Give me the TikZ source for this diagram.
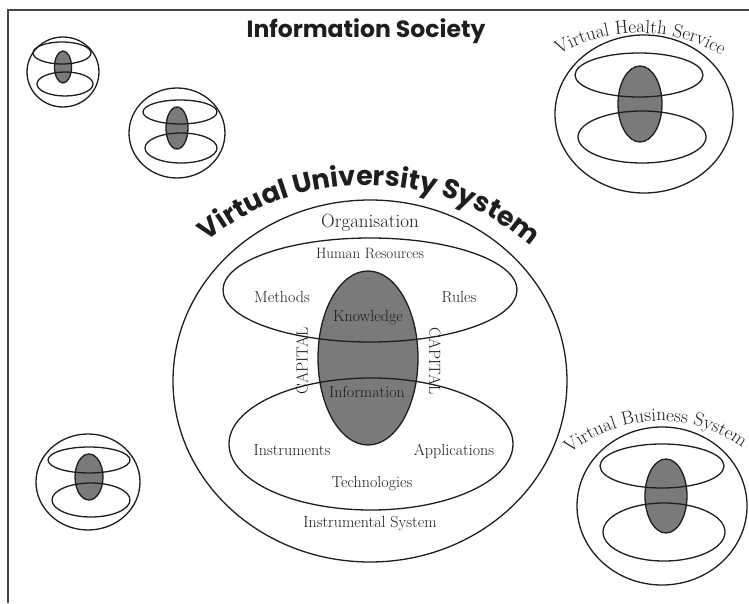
\documentclass[tikz,border=0pt]{standalone}
\usepackage{fontspec}
\newfontfamily\comicfont{Poppins}
\usetikzlibrary{decorations.text,calc}
\definecolor{fillgrey}{RGB}{122,122,122}
\definecolor{ink}{RGB}{30,30,30}
\definecolor{framegrey}{RGB}{70,70,70}
\begin{document}
\begin{tikzpicture}[x=1pt,y=1pt,
  ring/.style={draw=ink, line width=1.3pt},
  core/.style={draw=ink, fill=fillgrey, line width=1.3pt},
  lbl/.style={font=\fontsize{16}{16}\selectfont, text=ink, inner sep=0pt, anchor=base},
  caplbl/.style={font=\fontsize{16}{16}\selectfont, text=ink, inner sep=0pt, anchor=center},
]
\useasboundingbox (0,0) rectangle (749,603);
\clip (0,0) rectangle (749,603);
\fill[white] (0,0) rectangle (749,603);
% frame
\draw[framegrey, line width=2.5pt] (749,593) -- (8,593) -- (8,0);

% title
\node[font=\comicfont\bfseries\fontsize{23.5}{23.5}\selectfont, text=ink, anchor=base, inner sep=0pt] (title) at (366,565) {Information Society};

% small emblem 1
\draw[ring] (63,531) ellipse[x radius=36pt, y radius=35pt];
\draw[core] (63,536) ellipse[x radius=8.5pt, y radius=16pt];
\draw[ring] (62,550) ellipse[x radius=29pt, y radius=11pt];
\draw[ring] (65,519) ellipse[x radius=28pt, y radius=12pt];

% small emblem 2
\draw[ring] (177,470) ellipse[x radius=48pt, y radius=45pt];
\draw[core] (177,475) ellipse[x radius=11pt, y radius=21pt];
\draw[ring] (180,491) ellipse[x radius=37pt, y radius=12pt];
\draw[ring] (181,455) ellipse[x radius=36pt, y radius=15pt];

% small emblem 3
\draw[ring] (88,121) ellipse[x radius=52pt, y radius=48pt];
\draw[core] (89,126) ellipse[x radius=14pt, y radius=23pt];
\draw[ring] (89,143) ellipse[x radius=41pt, y radius=13pt];
\draw[ring] (91,103) ellipse[x radius=39pt, y radius=17pt];

% Virtual Health Service
\draw[ring] (644,489) ellipse[x radius=89pt, y radius=79pt];
\draw[core] (640,499) ellipse[x radius=22pt, y radius=38pt];
\draw[ring] (639,528) ellipse[x radius=64pt, y radius=22pt];
\draw[ring] (642,466) ellipse[x radius=64pt, y radius=26pt];
\path[decorate, decoration={text along path, text align=center, text color=ink,
  text={|\fontsize{19}{19}\selectfont|Virtual Health Service}}]
  ($(639,409)+(130:161pt)$) arc[start angle=130, end angle=49, radius=161pt];

% Virtual Business System
\draw[ring] (662,97) ellipse[x radius=85pt, y radius=79pt];
\draw[core] (666,107) ellipse[x radius=21pt, y radius=37pt];
\draw[ring] (662,137) ellipse[x radius=62pt, y radius=22pt];
\draw[ring] (664,71) ellipse[x radius=61pt, y radius=29pt];
\path[decorate, decoration={text along path, text align=left, text color=ink,
  text={|\fontsize{19}{19}\selectfont|Virtual Business System}}]
  ($(660,42)+(130:140pt)$) arc[start angle=130, end angle=20, radius=140pt];

% Virtual University System
\draw[ring] (370,222) ellipse[x radius=197pt, y radius=181pt];
\draw[core] (368,245) ellipse[x radius=50pt, y radius=87pt];
\draw[ring] (370,313) ellipse[x radius=147pt, y radius=52pt];
\draw[ring] (371,159) ellipse[x radius=142pt, y radius=66pt];
\path[decorate, decoration={text along path, text align=center, text color=ink,
  text={|\comicfont\bfseries\fontsize{27}{27}\selectfont|Virtual University System}}]
  ($(366,165)+(140:253pt)$) arc[start angle=140, end angle=38.2, radius=253pt];

\node[lbl, font=\fontsize{19}{19}\selectfont] (org) at (370,375) {Organisation};
\node[lbl, font=\fontsize{15}{15}\selectfont] (hr) at (370,344) {Human Resources};
\node[lbl] (meth) at (282,300) {Methods};
\node[lbl] (rules) at (459,300) {Rules};
\node[lbl] (know) at (368,281) {Knowledge};
\node[lbl] (info) at (367,206) {Information};
\node[lbl] (instr) at (292,148) {Instruments};
\node[lbl] (appl) at (454,148) {Applications};
\node[lbl] (tech) at (372,116) {Technologies};
\node[lbl] (isys) at (370,76) {Instrumental System};
\node[caplbl, rotate=90] (capl) at (302,242) {CAPITAL};
\node[caplbl, rotate=-90] (capr) at (435,242) {CAPITAL};
\end{tikzpicture}
\end{document}
